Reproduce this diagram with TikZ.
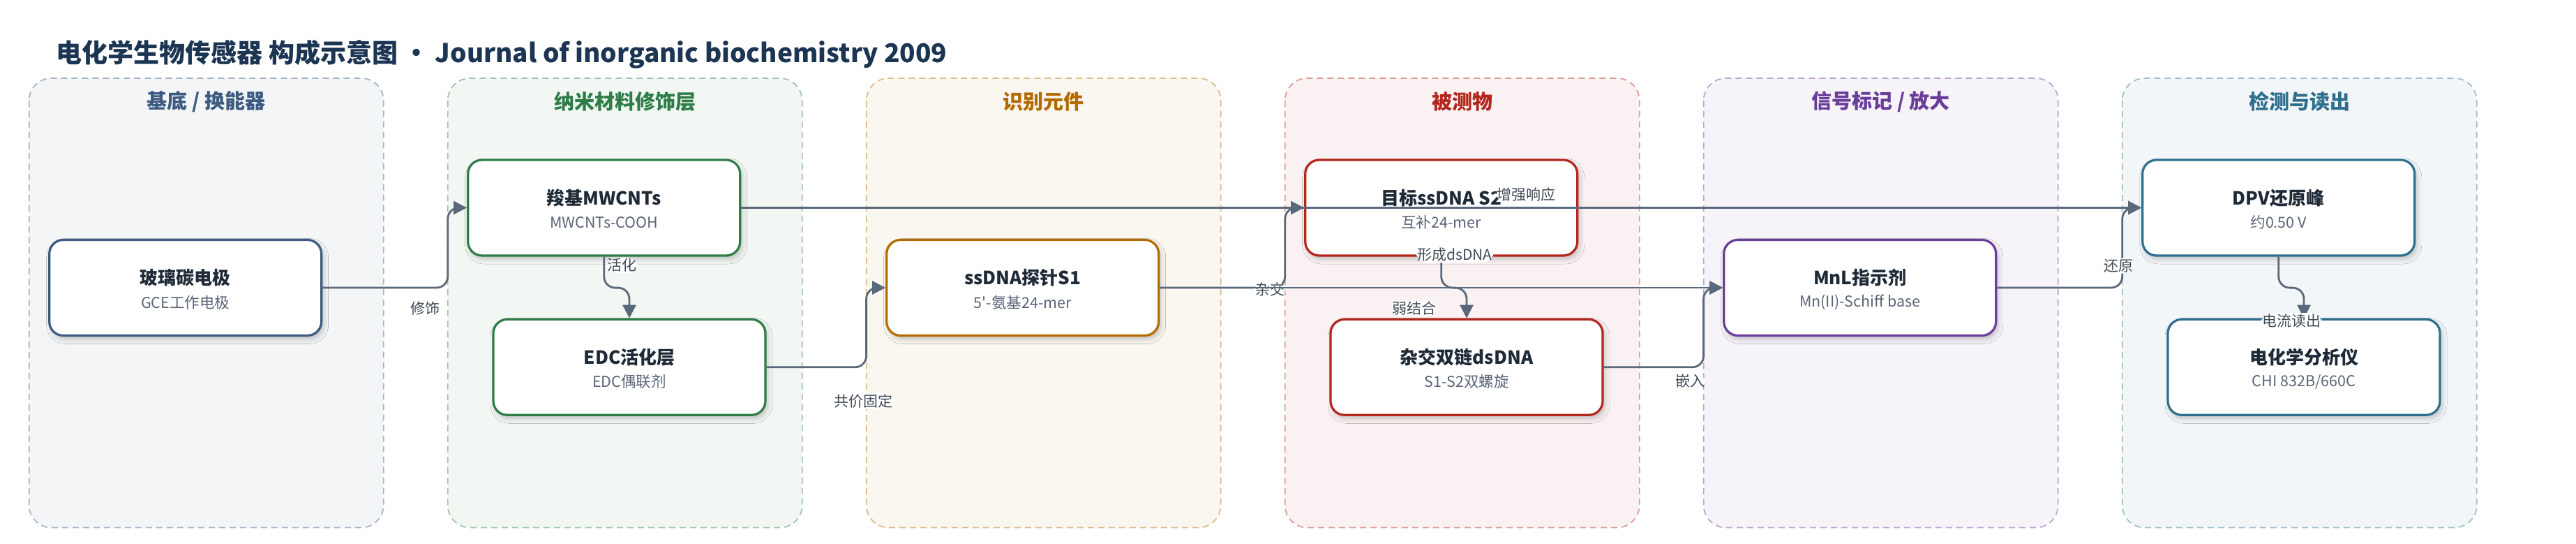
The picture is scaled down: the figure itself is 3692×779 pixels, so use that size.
\documentclass[tikz,border=0pt]{standalone}
\usepackage{fontspec}
\setmainfont{Noto Sans CJK SC}
\usetikzlibrary{arrows.meta,shadows.blur}
\definecolor{cbase}{HTML}{3D5A80}
\definecolor{cnano}{HTML}{2E7D47}
\definecolor{crec}{HTML}{B36B00}
\definecolor{cana}{HTML}{B3261E}
\definecolor{csig}{HTML}{6A3D9A}
\definecolor{cdet}{HTML}{2E6F8E}
\definecolor{ink}{HTML}{1F2A37}
\definecolor{subink}{HTML}{5B6576}
\definecolor{wire}{HTML}{5A687C}
\definecolor{navy}{HTML}{1C3553}
\begin{document}
\begin{tikzpicture}[x=1pt,y=-1pt,
		pnl/.style={draw=#1!45,fill=#1!6,line width=1.8pt,dash pattern=on 9pt off 6pt,rounded corners=32pt},
		ptl/.style={text=#1,font=\bfseries\fontsize{29}{34}\selectfont},
		blk/.style={draw=#1,fill=white,line width=3.2pt,rounded corners=20pt,minimum width=390pt,minimum height=137pt,inner sep=0pt,blur shadow={shadow xshift=3pt,shadow yshift=-5pt,shadow blur radius=7pt,shadow opacity=22}},
		mtxt/.style={text=ink,font=\bfseries\fontsize{26}{30}\selectfont,yshift=14pt},
		stxt/.style={text=subink,font=\fontsize{21.5}{25}\selectfont,yshift=-21pt},
		edge/.style={draw=wire,line width=2.8pt,rounded corners=16pt,-{Triangle[length=19pt,width=19pt]}},
		lbl/.style={fill=white,inner sep=1.5pt,text=ink!85,font=\fontsize{21}{24}\selectfont}]
		\fill[white] (0,0) rectangle (3692,779);
		\useasboundingbox (0,0) rectangle (3692,779);
		\node[anchor=base west,text=navy,font=\bfseries\fontsize{37}{42}\selectfont] (title) at (77,89) {电化学生物传感器 构成示意图 • Journal of inorganic biochemistry 2009};
		\draw[pnl=cbase] (41.7,112) rectangle (549.7,755.5);
		\draw[pnl=cnano] (641.7,112) rectangle (1149.7,755.5);
		\draw[pnl=crec] (1241.7,112) rectangle (1749.7,755.5);
		\draw[pnl=cana] (1841.7,112) rectangle (2349.7,755.5);
		\draw[pnl=csig] (2441.7,112) rectangle (2949.7,755.5);
		\draw[pnl=cdet] (3041.7,112) rectangle (3549.7,755.5);
		\node[ptl=cbase] (hbase) at (295.7,145.5) {基底 / 换能器};
		\node[ptl=cnano] (hnano) at (895.7,145.5) {纳米材料修饰层};
		\node[ptl=crec] (hrec) at (1495.7,145.5) {识别元件};
		\node[ptl=cana] (hana) at (2095.7,145.5) {被测物};
		\node[ptl=csig] (hsig) at (2695.7,145.5) {信号标记 / 放大};
		\node[ptl=cdet] (hdet) at (3295.7,145.5) {检测与读出};
		\node[blk=cbase,label={[mtxt]center:玻璃碳电极},label={[stxt]center:GCE工作电极}] (gce) at (265.7,412) {};
		\node[blk=cnano,label={[mtxt]center:羧基MWCNTs},label={[stxt]center:MWCNTs-COOH}] (mwcnt) at (865.7,297.5) {};
		\node[blk=cnano,label={[mtxt]center:EDC活化层},label={[stxt]center:EDC偶联剂}] (edc) at (902,525.8) {};
		\node[blk=crec,label={[mtxt]center:ssDNA探针S1},label={[stxt]center:5\textquotesingle-氨基24-mer}] (probe) at (1465.7,412) {};
		\node[blk=cana,label={[mtxt]center:目标ssDNA S2},label={[stxt]center:互补24-mer}] (target) at (2065.7,297.5) {};
		\node[blk=cana,label={[mtxt]center:杂交双链dsDNA},label={[stxt]center:S1-S2双螺旋}] (dsdna) at (2102,525.8) {};
		\node[blk=csig,label={[mtxt]center:MnL指示剂},label={[stxt]center:Mn(II)-Schiff base}] (mnl) at (2665.7,412) {};
		\node[blk=cdet,label={[mtxt]center:DPV还原峰},label={[stxt]center:约0.50 V}] (dpv) at (3265.7,297.5) {};
		\node[blk=cdet,label={[mtxt]center:电化学分析仪},label={[stxt]center:CHI 832B/660C}] (chi) at (3302,525.8) {};
		\draw[edge] (gce.east) -- ++(179.4,0) |- (mwcnt.west) node[lbl] (lmod) at (609,441.7) {修饰};
		\draw[edge] (mwcnt.south) -- ++(0,44.5) -| (edc.north) node[lbl] (lact) at (891.3,380) {活化};
		\draw[edge] (edc.east) -- ++(143,0) |- (probe.west) node[lbl] (lfix) at (1237.4,574.2) {共价固定};
		\draw[edge] (probe.east) -- ++(179.4,0) |- (target.west) node[lbl] (lhyb) at (1820,414) {杂交};
		\draw[edge] (probe.east) -- (mnl.west) node[lbl] (lweak) at (2027,441.7) {弱结合};
		\draw[edge] (target.south) -- ++(0,44.5) -| (dsdna.north) node[lbl] (lds) at (2085,365) {形成dsDNA};
		\draw[edge] (mwcnt.east) -- (dpv.west) node[lbl] (lenh) at (2187,279) {增强响应};
		\draw[edge] (dsdna.east) -- ++(143,0) |- (mnl.west) node[lbl] (lint) at (2422,546) {嵌入};
		\draw[edge] (mnl.east) -- ++(179.4,0) |- (dpv.west) node[lbl] (lred) at (3036.4,380.6) {还原};
		\draw[edge] (dpv.south) -- ++(0,44.5) -| (chi.north) node[lbl] (lread) at (3284,459.3) {电流读出};
	\end{tikzpicture}
\end{document}
